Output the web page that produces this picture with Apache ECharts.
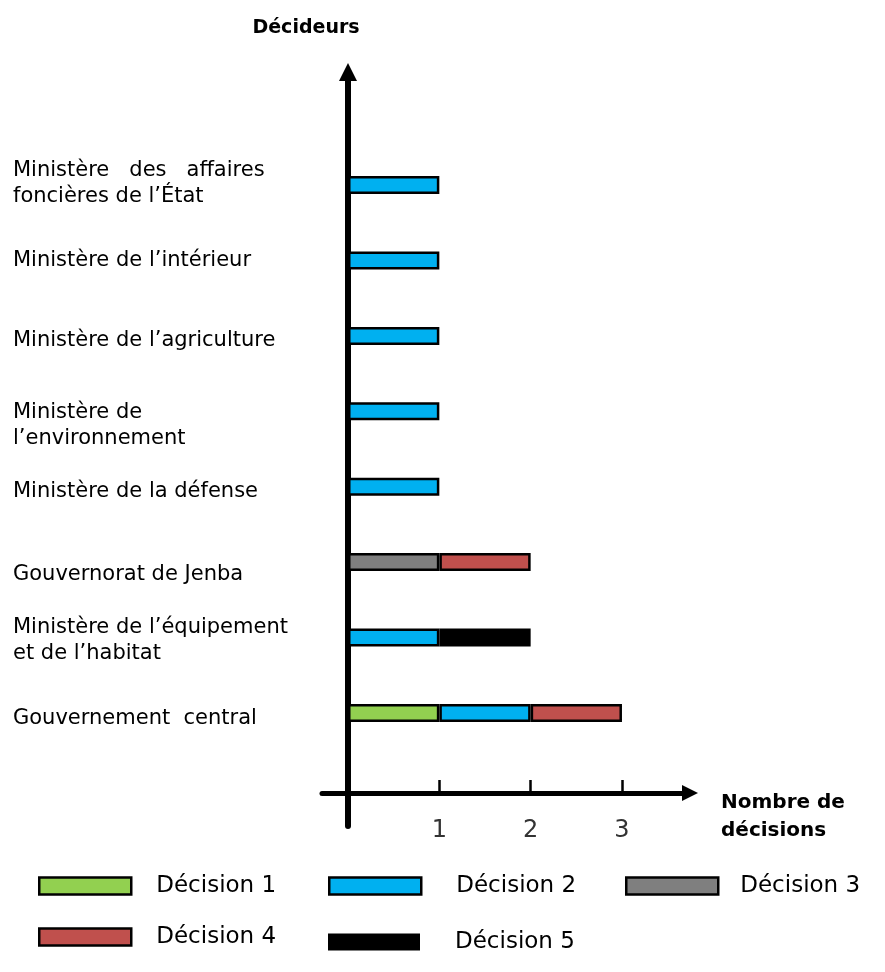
<!DOCTYPE html>
<html>
<head>
<meta charset="utf-8">
<script src="https://cdn.jsdelivr.net/npm/echarts@6/dist/echarts.min.js"></script>
<style>
html, body { margin: 0; padding: 0; background: #ffffff; }
#chart { width: 885px; height: 972px; }
</style>
</head>
<body>
<div id="chart"></div>
<script>
// Categories, listed top to bottom as in the figure
const categories = [
  'Ministère   des   affaires\nfoncières de l’État',
  'Ministère de l’intérieur',
  'Ministère de l’agriculture',
  'Ministère de\nl’environnement',
  'Ministère de la défense',
  'Gouvernorat de Jenba',
  'Ministère de l’équipement\net de l’habitat',
  'Gouvernement  central'
];
const seriesNames = ['Décision 1', 'Décision 2', 'Décision 3', 'Décision 4', 'Décision 5'];
// Number of decisions per decider (top to bottom), null = none
const decision1 = [null, null, null, null, null, null, null, 1];
const decision2 = [1, 1, 1, 1, 1, null, 1, 1];
const decision3 = [null, null, null, null, null, 1, null, null];
const decision4 = [null, null, null, null, null, 1, null, 1];
const decision5 = [null, null, null, null, null, null, 1, null];
const xTickValues = [1, 2, 3];
const xAxisTitle = 'Nombre de\ndécisions';
const yAxisTitle = 'Décideurs';

const colors = ['#92D050', '#00B0F0', '#7F7F7F', '#C0504D', '#000000'];
const FONT = 'DejaVu Sans';
const TRI = 'path://M10,0 L20,20 L0,20 Z';

// axis runs bottom-to-top; pad with an empty band at each end
const pad = arr => [null].concat(arr.slice().reverse(), [null]);
const yData = [''].concat(categories.slice().reverse(), ['']);
// small vertical nudges of label text (px, + = down), keyed by label
const labelNudge = {};
labelNudge[categories[0]] = -2;
labelNudge[categories[2]] = 5;
labelNudge[categories[3]] = 14;
labelNudge[categories[4]] = 5;
labelNudge[categories[5]] = 12;
labelNudge[categories[6]] = 3;
labelNudge[categories[7]] = 6;

function labelFormatter(value) {
  if (!value) return '';
  const lines = value.split('\n').map(l => '{t|' + l + '}');
  const s = labelNudge[value] || 0;
  if (s > 0) lines.unshift('{sp| }');
  if (s < 0) lines.push('{sp| }');
  return lines.join('\n');
}
function spacerStyleFor(value) { return Math.abs(labelNudge[value] || 0) * 2; }

const allData = [decision1, decision2, decision3, decision4, decision5];
const series = seriesNames.map((name, i) => ({
  name: name,
  type: 'bar',
  stack: 'total',
  barWidth: 18,
  data: pad(allData[i]),
  itemStyle: {
    color: colors[i],
    borderColor: '#000',
    borderWidth: i === 4 ? 0 : 2.5
  },
  emphasis: { disabled: true }
}));

const legendPos = [
  { left: 38, top: 874 },
  { left: 328, top: 874 },
  { left: 625, top: 874 },
  { left: 38, top: 925 },
  { left: 328, top: 925 }
];
const legendTextPad = [20, 30, 17, 20, 30];
const legends = seriesNames.map((name, i) => ({
  data: [name],
  left: legendPos[i].left,
  top: legendPos[i].top,
  padding: 0,
  icon: 'rect',
  itemWidth: 92,
  itemHeight: 17,
  selectedMode: false,
  itemStyle: { borderColor: '#000', borderWidth: i === 4 ? 0 : 2.5 },
  textStyle: {
    fontFamily: FONT, fontSize: 23, color: '#000', lineHeight: 24,
    padding: [i === 4 ? 10 : 0, 0, 0, legendTextPad[i]]
  }
}));

// Build per-category y labels (each with its own spacer height)
const yDataItems = yData.map(v => {
  if (!v) return v;
  const h = spacerStyleFor(v);
  return {
    value: v,
    textStyle: {
      align: 'left',
      rich: {
        t: { fontFamily: FONT, fontSize: 21, color: '#000', lineHeight: 26 },
        sp: { fontSize: 1, lineHeight: h || 1 }
      }
    }
  };
});

const chart = echarts.init(document.getElementById('chart'), null, { renderer: 'canvas' });
chart.setOption({
  backgroundColor: '#ffffff',
  animation: false,
  textStyle: { fontFamily: FONT },
  title: {
    text: xAxisTitle,
    left: 721,
    top: 789,
    padding: 0,
    textStyle: { fontFamily: FONT, fontSize: 20, fontWeight: 'bold', color: '#000', lineHeight: 28 }
  },
  legend: legends,
  grid: { left: 322, right: 195, top: 72, bottom: 146, containLabel: false, outerBoundsMode: 'none' },
  xAxis: {
    type: 'value',
    min: -0.285,
    max: 3.745,
    offset: -33,
    splitLine: { show: false },
    axisLine: {
      show: true,
      symbol: ['none', TRI],
      symbolSize: [17, 16],
      lineStyle: { color: '#000', width: 5 }
    },
    axisTick: {
      show: true, inside: true, length: 13,
      customValues: xTickValues,
      lineStyle: { color: '#000', width: 2.5 }
    },
    axisLabel: {
      customValues: xTickValues,
      margin: 26,
      fontFamily: FONT, fontSize: 24, color: '#333'
    }
  },
  yAxis: {
    type: 'category',
    data: yDataItems,
    boundaryGap: true,
    axisLine: {
      show: true,
      onZero: true,
      symbol: ['none', TRI],
      symbolSize: [19, 18],
      lineStyle: { color: '#000', width: 6 }
    },
    axisTick: { show: false },
    splitLine: { show: false },
    axisLabel: {
      align: 'left',
      margin: 309,
      formatter: labelFormatter,
      fontFamily: FONT, fontSize: 21, color: '#000', lineHeight: 26,
      rich: {
        t: { fontFamily: FONT, fontSize: 21, color: '#000', lineHeight: 26 },
        sp: { fontSize: 1, lineHeight: 10 }
      }
    },
    name: yAxisTitle,
    nameLocation: 'end',
    nameGap: 34,
    nameTextStyle: {
      fontFamily: FONT, fontSize: 19, fontWeight: 'bold', color: '#000',
      padding: [0, 84, 0, 0]
    }
  },
  series: series
});
</script>
</body>
</html>
